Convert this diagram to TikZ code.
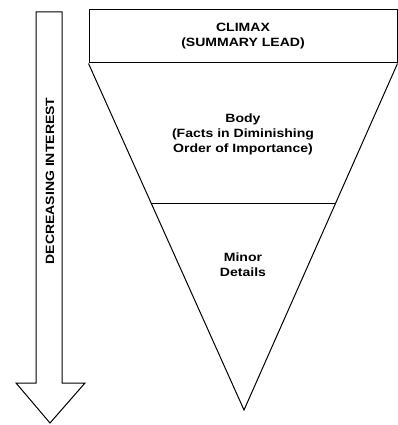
\documentclass[tikz,border=0pt]{standalone}
\usepackage{fontspec}
\setmainfont{Liberation Sans}
\newfontfamily\widefont[FakeStretch=1.17]{Liberation Sans}
\usetikzlibrary{positioning, calc}

\begin{document}
\begin{tikzpicture}[x=1pt, y=-1pt, line width=1pt,
    label/.style={font=\widefont\bfseries\fontsize{12}{15}\selectfont, align=center, inner sep=0pt}]
  \useasboundingbox (0,0) rectangle (398,425);

  % Interest arrow
  \draw[line join=miter] (36,12) -- (62,12) -- (62,383) -- (85,383) -- (50,423)
        -- (16,383) -- (36,383) -- cycle;
  \node[label, rotate=90] (interest) at (50,181) {DECREASING INTEREST};

  % Lead box
  \node[draw, minimum width=308pt, minimum height=53pt, inner sep=0pt] (lead) at (243,36.5) {};
  \node[label] (climax) at (243,36) {CLIMAX\\(SUMMARY LEAD)};

  % Inverted pyramid
  \coordinate (tip) at (244,410);
  \draw (lead.south west) -- (tip) -- (lead.south east);
  \coordinate (cutL) at ($(lead.south west)!0.403!(tip)$);
  \coordinate (cutR) at ($(lead.south east)!0.403!(tip)$);
  \draw (cutL) -- (cutR);

  \node[label] (body) at (243,134) {Body\\(Facts in Diminishing\\Order of Importance)};
  \node[label] (minor) at (243,265) {Minor\\Details};
\end{tikzpicture}
\end{document}
